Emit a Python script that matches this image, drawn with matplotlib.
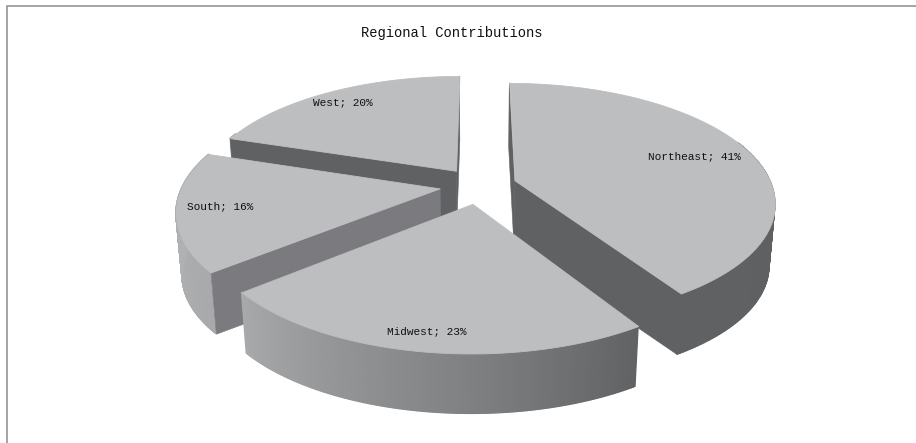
import numpy as np
import matplotlib
matplotlib.use("Agg")
import matplotlib.pyplot as plt
from matplotlib.collections import PolyCollection

# Data (clockwise from 12 o'clock)
regions = ["Northeast", "Midwest", "South", "West"]
shares = [41, 23, 16, 20]
title_text = "Regional Contributions"

# Styling / layout
explode = {"Northeast": 0.145, "Midwest": 0.16, "South": 0.155, "West": 0.155}
draw_order = ["West", "Northeast", "South", "Midwest"]
end_face_col = {"Northeast": "#5f6163", "Midwest": "#5f6163", "South": "#7b7a7e", "West": "#5f6163"}
label_pos = {"Northeast": (694, 156), "Midwest": (427, 331), "South": (220, 206), "West": (343, 102)}
TOP = "#bdbec0"
CX, CY, RX, RY, PERSP, H, QX, QY = 479.0, 185.0, 257.0, 116.0, 0.175, 62.5, 0.98, 0.985


def project(x, y):
    s = 1.0 / (1.0 + PERSP * y)
    return CX + RX * x * s, CY - RY * y * s


def lower(px, py):
    return CX + (px - CX) * QX, CY + H + (py - CY) * QY


def rim_shade(theta_deg):
    g = np.interp(theta_deg, [100, 147, 180, 230, 262, 300],
                  [0x5f, 0x60, 0x7f, 0xa8, 0xb0, 0xb0])
    return (g / 255, (g + 1) / 255, (g + 3) / 255)


def signed_area(pts):
    p = np.array(pts)
    x, y = p[:, 0], p[:, 1]
    return np.sum(x * np.roll(y, -1) - np.roll(x, -1) * y)


fig = plt.figure(figsize=(9.16, 4.43), dpi=100)
ax = fig.add_axes([0, 0, 1, 1])
ax.set_xlim(0, 916)
ax.set_ylim(443, 0)
ax.axis("off")
ax.plot([7, 7, 916], [443, 6, 6], color="#8c8c8c", lw=1.1, solid_joinstyle="miter")

total = sum(shares)
angles = np.cumsum([0] + shares) / total * 360
spans = {r: (angles[i], angles[i + 1]) for i, r in enumerate(regions)}

for name in draw_order:
    a0, a1 = spans[name]
    mid = np.radians((a0 + a1) / 2)
    ox, oy = explode[name] * np.sin(mid), explode[name] * np.cos(mid)
    th = np.linspace(a0, a1, 181)
    tr = np.radians(th)
    ux, uy = project(ox + np.sin(tr), oy + np.cos(tr))
    ax_, ay_ = project(ox, oy)
    lx, ly = lower(ux, uy)
    bx, by = lower(ax_, ay_)

    # curved outer wall: only the part turned to the viewer
    idx = [i for i in range(len(th) - 1) if np.cos(tr[i]) < 0.35]
    quads = [
        [(ux[i], uy[i]), (ux[i + 1], uy[i + 1]), (lx[i + 1], ly[i + 1]), (lx[i], ly[i])]
        for i in idx
    ]
    cols = [rim_shade((th[i] + th[i + 1]) / 2) for i in idx]
    if quads:
        ax.add_collection(PolyCollection(quads, facecolors=cols, edgecolors=cols, linewidths=0.9))

    # straight cut faces that turn to the viewer
    start_face = [(ax_, ay_), (ux[0], uy[0]), (lx[0], ly[0]), (bx, by)]
    end_face = [(ax_, ay_), (ux[-1], uy[-1]), (lx[-1], ly[-1]), (bx, by)]
    faces = []
    if signed_area(start_face) < 0:
        faces.append(start_face)
    if signed_area(end_face) > 0:
        faces.append(end_face)
    col = end_face_col[name]
    if faces:
        ax.add_collection(PolyCollection(faces, facecolors=col, edgecolors=col, linewidths=0.4))

    # top face
    top = [(ax_, ay_)] + list(zip(ux, uy))
    ax.add_collection(PolyCollection([top], facecolors=TOP, edgecolors=TOP, linewidths=0.6))

for name, val in zip(regions, shares):
    px, py = label_pos[name]
    ax.text(px, py, f"{name}; {val}%", ha="center", va="center",
            family="Liberation Mono", fontsize=8, color="#111111")

ax.text(452, 33, title_text, ha="center", va="center",
        family="Liberation Mono", fontsize=9.95, color="#111111")

fig.savefig("out.png", dpi=100)
